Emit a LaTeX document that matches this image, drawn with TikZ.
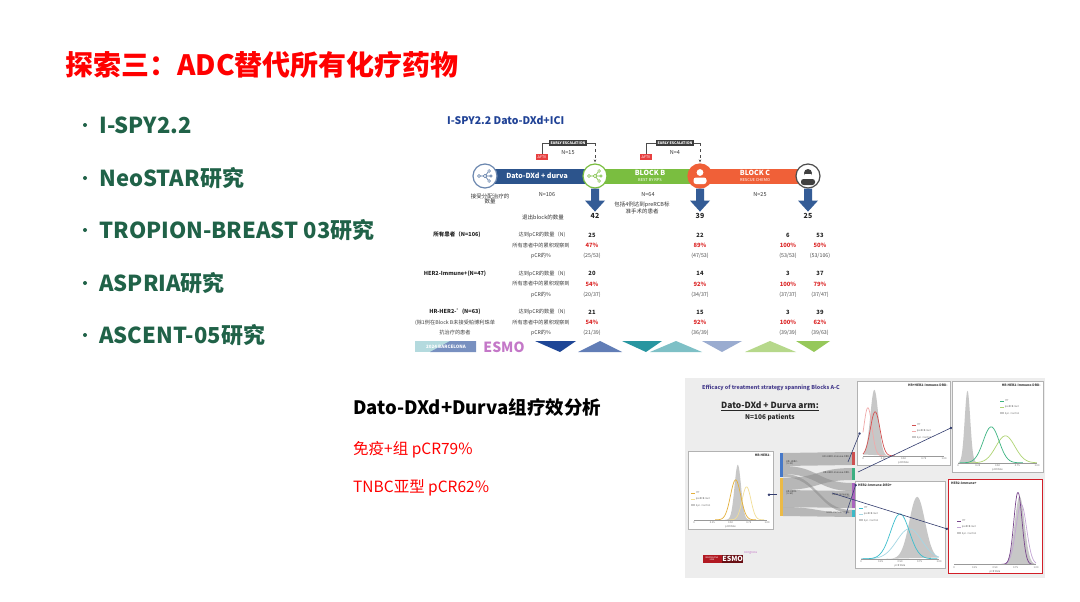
\documentclass[tikz,border=0pt]{standalone}
\usepackage{fontspec}
\setmainfont{Noto Sans CJK SC}
\usetikzlibrary{positioning,arrows.meta,calc}
\definecolor{titlered}{RGB}{255,0,0}
\definecolor{itemgreen}{RGB}{32,98,72}
\definecolor{ispyblue}{RGB}{32,66,150}
\definecolor{durvablue}{RGB}{44,84,140}
\definecolor{blockgreen}{RGB}{122,190,64}
\definecolor{blockorange}{RGB}{240,96,56}
\definecolor{arrblue}{RGB}{52,92,150}
\definecolor{escgray}{RGB}{60,60,60}
\definecolor{ftvred}{RGB}{232,64,64}
\definecolor{tabred}{RGB}{220,40,40}
\definecolor{esmoblue}{RGB}{30,70,150}
\definecolor{esmoteal}{RGB}{40,150,160}
\definecolor{esmogreen}{RGB}{150,200,90}
\definecolor{esmopink}{RGB}{196,120,200}
\definecolor{efftitle}{RGB}{70,60,140}
\definecolor{linkblue}{RGB}{50,60,110}
\definecolor{redframe}{RGB}{210,30,40}
\definecolor{skblue}{RGB}{70,120,200}
\definecolor{skyellow}{RGB}{236,186,70}
\definecolor{skred}{RGB}{205,80,80}
\definecolor{skgreen}{RGB}{60,175,130}
\definecolor{skpurple}{RGB}{170,100,190}
\definecolor{skteal}{RGB}{60,185,200}
\definecolor{cyellow}{RGB}{228,176,60}
\definecolor{cyellowl}{RGB}{242,222,150}
\definecolor{cred}{RGB}{210,80,80}
\definecolor{credl}{RGB}{240,170,170}
\definecolor{cgreen}{RGB}{60,180,130}
\definecolor{cgreenl}{RGB}{175,212,115}
\definecolor{ccyan}{RGB}{60,190,205}
\definecolor{ccyanl}{RGB}{165,215,228}
\definecolor{cpurple}{RGB}{120,70,140}
\definecolor{cpurplel}{RGB}{195,165,212}
\newcommand\fsz[1]{\fontsize{#1}{#1}\selectfont}
\tikzstyle{title} = [anchor=west, text=titlered, font=\bfseries\fsz{28}, inner sep=0pt]
\tikzstyle{itemdot} = [circle, fill=itemgreen, minimum size=4pt, inner sep=0pt]
\tikzstyle{item} = [anchor=west, text=itemgreen, font=\bfseries\fsz{22}, inner sep=0pt]
\tikzstyle{fighead} = [anchor=west, text=ispyblue, font=\bfseries\fsz{10.5}, inner sep=0pt]
\tikzstyle{bar} = [rectangle, minimum height=15pt, text=white, align=center, inner sep=0pt, font=\bfseries\fsz{7}]
\tikzstyle{stage} = [circle, line width=1.2pt, minimum size=24pt, inner sep=0pt, fill=white]
\tikzstyle{esc} = [fill=escgray, text=white, font=\bfseries\fsz{3.6}, inner sep=1.3pt]
\tikzstyle{ftv} = [fill=ftvred, text=white, font=\fsz{3.6}, inner sep=1.3pt]
\tikzstyle{escline} = [draw=black!70, line width=0.5pt]
\tikzstyle{lbl} = [text=black!80, font=\fsz{5.5}, align=center, inner sep=0pt]
\tikzstyle{num} = [text=black!85, font=\bfseries\fsz{7}, inner sep=0pt]
\tikzstyle{grp} = [text=black!85, font=\bfseries\fsz{5.5}, inner sep=0pt]
\tikzstyle{rowlbl} = [text=black!75, font=\fsz{5.2}, inner sep=0pt]
\tikzstyle{vnum} = [text=black!85, font=\bfseries\fsz{5.8}, inner sep=0pt]
\tikzstyle{vpct} = [text=tabred, font=\bfseries\fsz{5.8}, inner sep=0pt]
\tikzstyle{vfrac} = [text=black!70, font=\fsz{5.3}, inner sep=0pt]
\tikzstyle{subhead} = [anchor=west, text=black, font=\bfseries\fsz{18.5}, inner sep=0pt]
\tikzstyle{redtxt} = [anchor=west, text=titlered, font=\fsz{15.5}, inner sep=0pt]
\tikzstyle{panel} = [draw=black!30, fill=white, line width=0.8pt, anchor=north west, inner sep=0pt]
\tikzstyle{ptitle} = [text=black!80, font=\bfseries\fsz{3.2}, inner sep=0pt]
\tikzstyle{ticktext} = [text=black!60, font=\fsz{2.5}, inner sep=0pt]
\tikzstyle{keytext} = [text=black!60, font=\fsz{2.5}, inner sep=0pt, anchor=west]
\tikzstyle{sktext} = [text=black!75, font=\fsz{2.4}, inner sep=0pt]
\tikzstyle{link} = [draw=linkblue, line width=0.6pt, -{Circle[length=2.4pt]}]
\newcommand\fillcurve[5]{\pgfmathsetmacro\curvelo{max(0,#3-4*#4)}\pgfmathsetmacro\curvehi{min(1,#3+4*#4)}%
  \fill[#1] plot[domain=\curvelo:\curvehi,samples=40,smooth] ({\x*#2},{-#5*exp(-((\x-#3)^2)/(2*#4*#4))}) -- cycle;}
\newcommand\linecurve[5]{\pgfmathsetmacro\curvelo{max(0,#3-4*#4)}\pgfmathsetmacro\curvehi{min(1,#3+4*#4)}%
  \draw[#1, line width=0.7pt] plot[domain=\curvelo:\curvehi,samples=40,smooth] ({\x*#2},{-#5*exp(-((\x-#3)^2)/(2*#4*#4))});}
\newcommand\rateaxis[1]{\draw[black!40, line width=0.4pt] (0,0) -- (#1,0);
  \node[ticktext] at (0,3) {0}; \node[ticktext] at (0.25*#1,3) {0.25}; \node[ticktext] at (0.5*#1,3) {0.50};
  \node[ticktext] at (0.75*#1,3) {0.75}; \node[ticktext] at (#1,3) {1.00}; \node[ticktext] at (0.5*#1,7) {pCR Rate};}
\newcommand\panelkey[3]{\draw[#2, line width=0.6pt] (#1) -- ++(4,0) node[keytext, right=0.6pt] {ITT};
  \draw[#3, line width=0.6pt] ($(#1)+(0,6)$) -- ++(4,0) node[keytext, right=0.6pt] {preRCB met};
  \fill[black!22] ($(#1)+(0,11)$) rectangle ($(#1)+(4,13)$) node[keytext, right=0.6pt] {Syn. Control};}
\newcommand\netico[2]{\draw[#2, line width=0.6pt] ($(#1)+(-6,0)$) -- ($(#1)+(6,0)$) ($(#1)$) -- ($(#1)+(4,-5)$) ($(#1)$) -- ($(#1)+(4,5)$);
  \filldraw[fill=white, draw=#2, line width=0.5pt] ($(#1)+(-6,0)$) circle (1.5) ($(#1)$) circle (1.7) ($(#1)+(4,-5)$) circle (1.4) ($(#1)+(4,5)$) circle (1.4) ($(#1)+(6,0)$) circle (1.2);}
\newcommand\bigdown[1]{\fill[arrblue] ($(#1.south)+(-4,0)$) -- ++(8,0) -- ++(0,12) -- ++(6,0) -- ++(-10,11) -- ++(-10,-11) -- ++(6,0) -- cycle;}
\newcommand\band[4]{\fill[black!45, opacity=0.55] (783,#1) .. controls (818,#1) and (818,#3) .. (852,#3) -- (852,#4) .. controls (818,#4) and (818,#2) .. (783,#2) -- cycle;}

\begin{document}
\begin{tikzpicture}[x=1pt,y=-1pt]
\useasboundingbox[fill=white] (0,0) rectangle (1080,602);
%title and list=========================
\node[title] (ttl) at (65,65) {探索三：ADC替代所有化疗药物};
\node[itemdot] (d1) at (85,125) {};
\node[item, right=12pt of d1] (i1) {I-SPY2.2};
\node[itemdot] (d2) at (85,178) {};
\node[item, right=12pt of d2] (i2) {NeoSTAR研究};
\node[itemdot] (d3) at (85,230) {};
\node[item, right=12pt of d3] (i3) {TROPION-BREAST 03研究};
\node[itemdot] (d4) at (85,283) {};
\node[item, right=12pt of d4] (i4) {ASPRIA研究};
\node[itemdot] (d5) at (85,335) {};
\node[item, right=12pt of d5] (i5) {ASCENT-05研究};

%I-SPY2.2 scheme=========================
\node[fighead] (fh) at (447,120) {I-SPY2.2 Dato-DXd+ICI};
\node[bar, fill=durvablue, minimum width=100pt] (bA) at (537,176) {Dato-DXd + durva};
\node[bar, fill=blockgreen, minimum width=100pt] (bB) at (650,176) {BLOCK B\\[-1pt]{\mdseries\fsz{4}BEST BY RPS}};
\node[bar, fill=blockorange, minimum width=106pt] (bC) at (755,176) {BLOCK C\\[-1pt]{\mdseries\fsz{4}RESCUE CHEMO}};
\node[stage, draw=durvablue!70] (c1) at (485,176) {};
\node[stage, draw=blockgreen] (c2) at (595,176) {};
\node[stage, draw=blockorange, fill=blockorange] (c3) at (700,176) {};
\node[stage, draw=black!70] (c4) at (808,176) {};
\netico{c1}{durvablue!80}
\netico{c2}{blockgreen}
\fill[white] ($(c3)+(0,-3.5)$) circle (3.4);
\fill[white, rounded corners=2.5] ($(c3)+(-6.5,8)$) rectangle ($(c3)+(6.5,1.5)$);
\fill[black!75] ($(c4)+(0,-3)$) circle (4);
\fill[black!75, rounded corners=2.5] ($(c4)+(-7,9)$) rectangle ($(c4)+(7,3)$);
\fill[white] ($(c4)+(-3,-2.5)$) rectangle ($(c4)+(3,0.5)$);

\node[esc] (e1) at (568,143) {EARLY ESCALATION};
\node[ftv] (f1) at (542,157) {ΔFTV};
\node[lbl, below=4pt of e1] (n15) {N=15};
\draw[escline] (f1.north) |- (e1.west);
\coordinate (k1) at (c2.north |- e1.east);
\draw[escline] (e1.east) -- (k1);
\draw[escline, dashed, -{Stealth[length=3pt,width=2.5pt]}] (k1) -- ([yshift=1pt]c2.north);
\node[esc] (e2) at (675,143) {EARLY ESCALATION};
\node[ftv] (f2) at (646,157) {ΔFTV};
\node[lbl, below=4pt of e2] (n4) {N=4};
\draw[escline] (f2.north) |- (e2.west);
\coordinate (k2) at (c3.north |- e2.east);
\draw[escline] (e2.east) -- (k2);
\draw[escline, dashed, -{Stealth[length=3pt,width=2.5pt]}] (k2) -- ([yshift=1pt]c3.north);

\node[lbl] (l1) at (490,199) {接受分配治疗的\\数量};
\node[lbl] (n106) at (547,195) {N=106};
\node[lbl] (n64) at (648,195) {N=64};
\node[lbl] (l2) at (642,208) {包括4例达到preRCB标\\准手术的患者};
\node[lbl] (n25) at (760,195) {N=25};
\node[lbl] (l3) at (543,217) {退出block的数量};
\bigdown{c2}
\bigdown{c3}
\bigdown{c4}
\node[num, below=25pt of c2.south] (v42) {42};
\node[num, below=25pt of c3.south] (v39) {39};
\node[num, below=25pt of c4.south] (v25) {25};

% table
\node[grp] (g1) at (457,235) {所有患者（N=106)};
\node[grp] (g2) at (455,273.5) {HER2-Immune+(N=47)};
\node[grp] (g3) at (455,312) {HR-HER2-\symbol{"27}(N=63)};
\node[rowlbl] (g3a) at (455,322.5) {(除1例在Block B未接受帕博利珠单};
\node[rowlbl] (g3b) at (455,333) {抗治疗的患者};
\foreach \g [evaluate=\g as \y using 235+(\g-1)*38.5] in {1,2,3} {
  \node[rowlbl] (ra\g) at (542,\y) {达到pCR的数量（N)};
  \node[rowlbl] (rb\g) at (541,\y+10.5) {所有患者中的累积观察到};
  \node[rowlbl] (rc\g) at (541,\y+21) {pCR的\%};
}
\foreach \g/\c/\x/\n/\p/\fa/\fb [evaluate=\g as \y using 235+(\g-1)*38.5] in {
  1/1/592/25/47/25/53, 1/2/700/22/89/47/53, 1/3/788/6/100/53/53, 1/4/820/53/50/53/106,
  2/1/592/20/54/20/37, 2/2/700/14/92/34/37, 2/3/788/3/100/37/37, 2/4/820/37/79/37/47,
  3/1/592/21/54/21/39, 3/2/700/15/92/36/39, 3/3/788/3/100/39/39, 3/4/820/39/62/39/63} {
  \node[vnum] (n\g\c) at (\x,\y) {\n};
  \node[vpct] (p\g\c) at (\x,\y+10.5) {\p\%};
  \node[vfrac] (f\g\c) at (\x,\y+21) {(\fa/\fb)};
}

% congress band
\fill[esmoteal!35] (415,341) rectangle (476,352);
\fill[esmoblue!60] (430,352) -- (450,341) -- (476,341) -- (476,352) -- cycle;
\node[text=white, font=\bfseries\fsz{4.5}, inner sep=0pt] (barc) at (446,347) {2024 BARCELONA};
\node[text=esmopink, font=\bfseries\fsz{14}, inner sep=0pt] (esmo) at (504,347) {ESMO};
\fill[esmoblue] (535,341) -- (576,341) -- (560,352) -- cycle;
\fill[esmoblue!70] (578,352) -- (600,341) -- (622,352) -- cycle;
\fill[esmoteal] (622,341) -- (662,341) -- (646,352) -- cycle;
\fill[esmoteal!60] (650,352) -- (676,341) -- (702,352) -- cycle;
\fill[esmoblue!45] (702,341) -- (742,341) -- (722,352) -- cycle;
\fill[esmogreen!70] (745,352) -- (770,341) -- (796,352) -- cycle;
\fill[esmogreen] (796,341) -- (830,341) -- (814,352) -- cycle;

%analysis text=========================
\node[subhead] (sh) at (353,407) {Dato-DXd+Durva组疗效分析};
\node[redtxt] (r1) at (353,450) {免疫+组 pCR79\%};
\node[redtxt] (r2) at (353,488) {TNBC亚型 pCR62\%};

%efficacy figure=========================
\fill[black!7] (685,378) rectangle (1045,578);
\node[text=efftitle, font=\bfseries\fsz{5.4}, anchor=west, inner sep=0pt] (eff) at (702,388) {Efficacy of treatment strategy spanning Blocks A-C};
\node[text=black!85, font=\bfseries\fsz{8.5}, inner sep=0pt] (arm) at (770,406) {\underline{Dato-DXd + Durva arm:}};
\node[text=black!85, font=\bfseries\fsz{6.5}, inner sep=0pt, below=3pt of arm] (arm2) {N=106 patients};

\node[panel, minimum width=85pt, minimum height=78pt] (pA) at (688,451) {};
\node[panel, minimum width=93pt, minimum height=84pt] (pB) at (857,381) {};
\node[panel, minimum width=91pt, minimum height=91pt] (pC) at (952,381) {};
\node[panel, minimum width=90pt, minimum height=87pt] (pD) at (855,481) {};
\node[panel, draw=redframe, line width=1.4pt, minimum width=94pt, minimum height=94pt] (pE) at (948,479) {};

\begin{scope}[shift={($(pA.south west)+(6,-10)$)}]
\fillcurve{black!22}{73}{0.6}{0.045}{55}
\linecurve{cyellowl}{73}{0.72}{0.06}{33}
\linecurve{cyellow}{73}{0.57}{0.07}{40}
\rateaxis{73}
\end{scope}
\begin{scope}[shift={($(pB.south west)+(6,-10)$)}]
\fillcurve{black!22}{81}{0.14}{0.05}{66}
\linecurve{credl}{81}{0.06}{0.05}{48}
\linecurve{cred}{81}{0.15}{0.06}{44}
\rateaxis{81}
\end{scope}
\begin{scope}[shift={($(pC.south west)+(6,-10)$)}]
\fillcurve{black!22}{79}{0.12}{0.035}{72}
\linecurve{cgreenl}{79}{0.6}{0.12}{27}
\linecurve{cgreen}{79}{0.42}{0.1}{36}
\rateaxis{79}
\end{scope}
\begin{scope}[shift={($(pD.south west)+(6,-10)$)}]
\fillcurve{black!22}{78}{0.72}{0.1}{62}
\linecurve{ccyanl}{78}{0.62}{0.16}{30}
\linecurve{ccyan}{78}{0.5}{0.12}{45}
\rateaxis{78}
\end{scope}
\begin{scope}[shift={($(pE.south west)+(6,-10)$)}]
\fillcurve{black!22}{82}{0.8}{0.06}{68}
\linecurve{cpurplel}{82}{0.82}{0.065}{60}
\linecurve{cpurple}{82}{0.78}{0.05}{72}
\rateaxis{82}
\end{scope}

\node[ptitle, anchor=north east] (tA) at ([xshift=-3pt,yshift=-3pt]pA.north east) {HR-HER2-};
\node[ptitle, anchor=north east] (tB) at ([xshift=-3pt,yshift=-3pt]pB.north east) {HR+HER2-Immune-DRD-};
\node[ptitle, anchor=north east] (tC) at ([xshift=-3pt,yshift=-3pt]pC.north east) {HR-HER2-Immune-DRD-};
\node[ptitle, anchor=north west] (tD) at ([xshift=3pt,yshift=-3pt]pD.north west) {HER2-Immune-DRD+};
\node[ptitle, anchor=north west] (tE) at ([xshift=3pt,yshift=-3pt]pE.north west) {HER2-Immune+};
\coordinate (kA) at (691,493);
\coordinate (kB) at (912,425);
\coordinate (kC) at (1000,401);
\coordinate (kD) at (859,508);
\coordinate (kE) at (957,521);
\panelkey{kA}{cyellow}{cyellowl}
\panelkey{kB}{cred}{credl}
\panelkey{kC}{cgreen}{cgreenl}
\panelkey{kD}{ccyan}{ccyanl}
\panelkey{kE}{cpurple}{cpurplel}

% sankey
\node[minimum width=75pt, minimum height=65pt, anchor=north west, inner sep=0pt] (sk) at (780,452) {};
\band{453}{466}{452}{465}
\band{466}{474}{483}{491}
\band{474}{477}{510}{513}
\band{478}{490}{468}{480}
\band{490}{507}{491}{508}
\band{507}{516}{513}{517}
\fill[skblue] (780,453) rectangle (783,477);
\fill[skyellow] (780,478) rectangle (783,516);
\fill[skred] (852,452) rectangle (855,465);
\fill[skgreen] (852,468) rectangle (855,480);
\fill[skpurple] (852,483) rectangle (855,508);
\fill[skteal] (852,510) rectangle (855,517);
\node[sktext, anchor=west, align=left] (sl1) at (786,463) {HR+HER2-\\(n=43)};
\node[sktext, anchor=west, align=left] (sl2) at (786,493) {HR-HER2-\\(n=63)};
\node[sktext, anchor=east] (sr1) at (850,457) {HR+HER2-Immune-DRD-};
\node[sktext, anchor=east] (sr2) at (850,473) {HR-HER2-Immune-DRD-};
\node[sktext, anchor=east, align=right] (sr3) at (850,496) {HER2-Immune+\\(n=47)};
\node[sktext, anchor=east] (sr4) at (850,513) {HER2-Immune-DRD+};

% links
\coordinate (sA) at ($(sk.west)+(-3,10)$);
\coordinate (sB) at (848,462);
\coordinate (sC) at (858,472);
\coordinate (sD) at (846,514);
\coordinate (sE) at (832,493);
\draw[link] (sA) -- ([xshift=-6pt]pA.east |- sA);
\draw[link] (sB) -- ([xshift=3pt,yshift=-9pt]pB.west);
\draw[link] (sC) -- ([yshift=-0.5pt]pC.west);
\draw[link] (sD) -- ([xshift=1pt,yshift=-3pt]pD.north west);
\draw[link] (sE) -- ([yshift=-2.5pt]pE.west);

% congress logo
\node[fill=redframe!85!black, text=white, font=\fsz{2.2}, align=center, minimum width=19pt, minimum height=8pt, inner sep=0pt] (lg1) at (712,559) {BARCELONA\\2024};
\node[fill=redframe!50!black, text=white, font=\bfseries\fsz{7}, minimum height=8pt, inner sep=0.5pt, right=0pt of lg1] (lg2) {ESMO};
\node[text=esmopink, font=\fsz{3.2}, inner sep=0pt, anchor=south west] (lg3) at (lg2.north east) {congress};
\end{tikzpicture}
\end{document}
